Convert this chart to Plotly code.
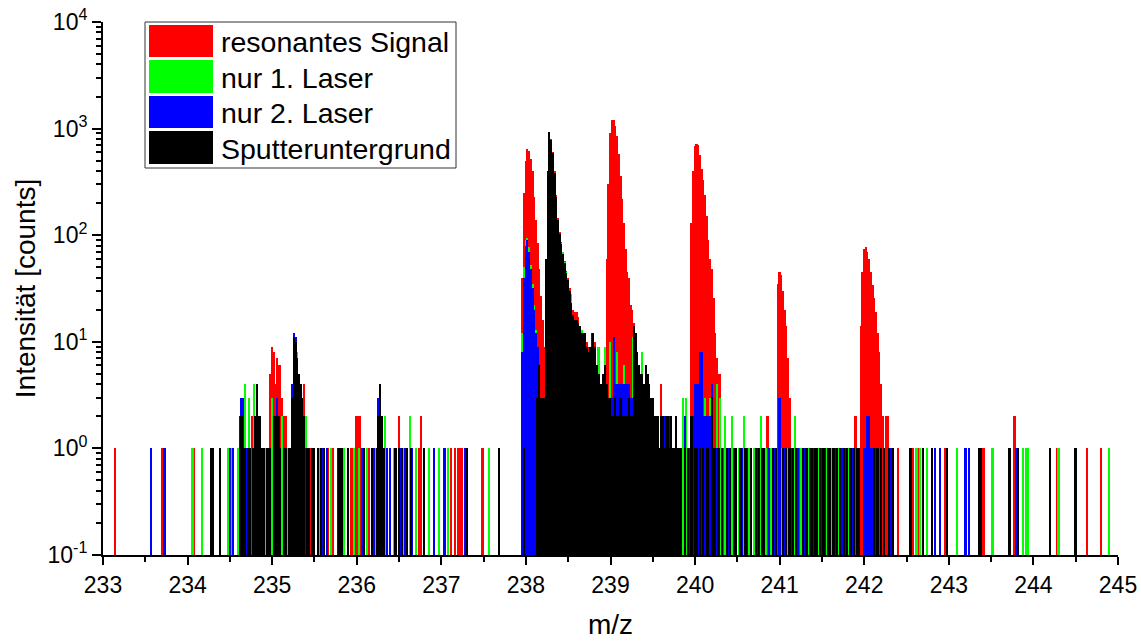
import plotly.graph_objects as go

BIN = 0.02

# ---------------- data: contiguous runs (start m/z, counts per 0.02 bin) ----------------
red_238 = [40, 250, 500, 640, 620, 520, 400, 230, 140, 85, 48, 27, 16, 9, 6]
red_238b = [380, 880, 800, 600, 400, 240, 145, 108, 86, 70,
            57, 46, 40, 32, 25, 20, 19, 19, 17, 14,
            13, 12, 12, 10, 9, 9, 10, 12, 10, 6,
            5, 4, 4, 5, 6]
red_239 = [60, 300, 900, 1200, 1200, 1050, 850, 580, 360, 220, 130, 75, 45, 40, 22, 20, 15, 11, 5]
red_240 = [130, 400, 680, 720, 700, 560, 420, 330, 240, 150, 90, 60, 48, 26, 12, 7, 5, 5]
red_241 = [35, 45, 42, 30, 20, 14, 7, 3]
red_242 = [14, 45, 75, 78, 70, 60, 45, 34, 26, 19, 12, 8, 4, 2]
red_235 = [5, 9, 8, 4, 7, 6, 6, 3, 2, 2]
red_runs = [(237.96, red_238), (238.26, red_238b), (238.96, red_239), (239.96, red_240),
            (240.98, red_241), (241.96, red_242), (234.98, red_235)]
red_sticks = [(233.14, 1), (233.70, 1), (234.08, 1), (234.76, 2), (234.90, 1), (235.26, 4), (235.30, 5),
              (235.38, 4), (235.46, 1), (235.59, 1), (235.66, 1), (235.72, 1), (235.94, 1), (236.00, 2),
              (236.02, 2), (236.04, 2), (236.06, 1), (236.15, 1), (236.50, 2), (236.60, 1), (236.74, 1),
              (236.76, 2), (237.12, 1), (237.16, 1), (237.20, 1), (237.22, 1), (237.25, 1), (237.49, 1),
              (239.34, 4), (239.42, 5), (239.50, 2), (239.60, 4), (240.34, 1), (240.40, 1), (240.86, 2),
              (241.24, 1), (241.70, 1), (241.90, 2), (242.26, 2), (242.28, 2), (242.40, 1), (242.58, 1),
              (242.64, 1), (242.96, 1), (243.40, 1), (243.42, 1), (243.78, 2), (244.28, 1), (244.64, 1),
              (244.80, 1)]

green_238 = [12, 50, 90, 95, 78, 52, 35, 22, 13, 8, 6]
green_238b = [55, 390, 900, 770, 585, 378, 228, 137, 103, 85,
              70, 56, 45, 38, 30, 28, 18, 16, 16, 15,
              14, 13, 12, 12, 9, 8, 9, 10, 12, 9,
              6, 5, 4, 4, 5, 9]
green_runs = [(237.96, green_238), (238.24, green_238b)]
green_sticks = [(234.06, 1), (234.17, 1), (234.48, 1), (234.53, 1), (234.60, 1), (234.68, 4), (234.73, 3),
                (234.79, 4), (234.86, 1), (234.92, 1), (235.00, 3), (235.12, 2), (235.18, 1), (235.22, 1),
                (235.28, 9), (235.30, 8), (235.32, 5), (235.34, 4), (235.36, 3), (235.40, 2),
                (235.44, 1), (235.50, 1), (235.56, 1), (235.70, 1), (235.85, 1), (235.97, 1), (236.03, 1),
                (236.12, 1), (236.22, 1), (236.28, 4), (236.34, 2), (236.44, 1), (236.56, 1), (236.63, 2),
                (236.70, 1), (236.86, 1), (236.98, 1), (237.08, 1), (237.57, 1), (238.86, 9), (239.00, 10),
                (239.08, 8), (239.16, 6), (239.27, 11), (239.38, 8), (239.46, 4), (239.86, 3), (239.90, 3),
                (240.12, 3), (240.18, 3), (240.26, 4), (240.30, 3), (240.36, 2), (240.44, 2), (240.52, 1),
                (240.58, 2), (240.64, 1), (240.70, 1), (240.78, 2), (240.84, 1), (240.90, 1), (241.02, 1),
                (241.10, 1), (241.18, 2), (241.26, 1), (241.34, 1), (241.46, 1), (241.56, 1), (241.62, 1),
                (241.70, 1), (241.82, 1), (242.00, 1), (242.08, 1), (242.62, 1), (242.66, 1), (242.74, 1),
                (242.84, 1), (243.10, 1), (243.52, 1), (243.88, 1), (243.92, 1), (243.94, 1), (244.30, 1),
                (244.90, 1)]

blue_238 = [8, 40, 80, 90, 70, 48, 32, 20, 12, 9]
blue_238b = [50, 380, 920, 770, 580, 375, 226, 136, 102, 82,
             66, 55, 44, 37, 29, 22, 17, 16, 15, 15,
             14, 12, 12, 12, 9, 8, 9, 12, 12, 9,
             6, 5, 4, 4, 5, 5]
blue_239 = [3, 11, 4, 4, 4, 4, 4, 4, 4, 4, 4, 3, 3]
blue_240 = [2, 4, 4, 4, 8, 8, 2, 2, 2, 2, 2, 4]
blue_runs = [(237.96, blue_238), (238.24, blue_238b), (239.02, blue_239), (239.98, blue_240)]
blue_sticks = [(233.57, 1), (233.73, 1), (234.50, 1), (234.54, 1), (234.62, 2), (234.64, 3), (234.66, 3),
               (234.70, 1), (234.84, 1), (234.96, 1), (235.06, 3), (235.16, 1), (235.24, 4), (235.26, 12),
               (235.28, 11), (235.30, 7), (235.32, 4), (235.34, 3), (235.36, 2), (235.40, 1), (235.48, 1),
               (235.60, 1), (235.65, 1), (235.78, 1), (236.07, 1), (236.20, 1), (236.26, 3), (236.36, 1),
               (236.40, 1), (236.52, 1), (236.58, 1), (236.66, 1), (236.92, 1), (237.04, 1), (237.28, 1),
               (239.30, 3), (239.40, 3), (239.44, 2), (239.56, 1), (239.62, 2), (239.64, 2), (239.66, 2),
               (239.70, 2), (239.72, 1), (239.76, 1), (239.80, 1), (239.84, 1), (239.88, 2), (239.94, 1),
               (240.26, 1), (240.32, 1), (240.40, 1), (240.46, 1), (240.56, 1), (240.62, 1), (240.74, 1),
               (240.88, 1), (240.94, 1), (241.00, 3), (241.06, 1), (241.14, 1), (241.22, 1), (241.30, 1),
               (241.36, 1), (241.40, 1), (241.50, 1), (241.54, 1), (241.66, 1), (241.74, 1), (241.78, 1),
               (241.86, 1), (242.00, 1), (242.02, 1), (242.04, 2), (242.06, 2), (242.08, 1), (242.10, 1),
               (242.14, 1), (242.32, 1), (242.84, 1), (242.90, 1), (243.20, 1), (243.24, 1), (243.80, 1)]

black_238 = [3, 6, 3, 3, 3, 60, 400, 930, 780, 590,
             380, 230, 138, 103, 83, 67, 54, 44, 38, 30,
             23, 18, 16, 16, 15, 14, 12, 12, 12, 9,
             8, 9, 9, 12, 9, 6, 5, 4, 4, 5, 6]
black_239 = [4, 3, 3, 2, 2, 3, 2, 2, 3, 2,
             2, 2, 2, 3, 2, 2, 14, 12, 8, 6,
             5, 5, 4, 6, 5, 4, 3, 3, 2, 2,
             2, 1, 2, 2, 1, 2, 2, 1, 2, 1, 1, 2, 1, 1]
black_235 = [1, 2, 1, 1, 0, 1, 1, 0, 1, 2,
             4, 2, 2, 1, 1, 0, 1, 1, 1, 0,
             2, 2, 2, 2, 1, 0, 1, 1, 0, 1,
             1, 3, 11, 10, 7, 5, 4, 3, 2, 0,
             1, 1, 0, 1, 1]
black_runs = [(238.14, black_238), (238.96, black_239), (234.62, black_235)]
black_sticks = [(234.28, 1), (234.30, 1), (234.39, 1), (235.54, 1), (235.58, 1), (235.62, 1), (235.80, 1),
                (235.83, 1), (235.90, 1), (236.09, 1), (236.18, 1), (236.24, 1), (236.26, 2), (236.28, 4),
                (236.30, 2), (236.32, 1), (236.46, 1), (236.50, 1), (236.54, 1), (236.60, 1), (236.64, 1),
                (236.80, 1), (237.31, 1), (237.68, 1), (237.98, 1),
                (239.84, 1), (239.88, 1), (239.92, 1), (239.96, 2), (240.00, 1), (240.02, 1), (240.06, 1),
                (240.10, 1), (240.14, 1), (240.16, 1), (240.20, 3), (240.22, 1), (240.24, 1), (240.28, 1),
                (240.32, 1), (240.38, 1), (240.42, 1), (240.48, 1), (240.54, 1), (240.60, 1), (240.66, 1),
                (240.72, 1), (240.76, 1), (240.80, 1), (240.82, 1), (240.92, 1), (240.96, 1), (241.04, 1),
                (241.08, 1), (241.12, 1), (241.16, 1), (241.20, 1), (241.28, 1), (241.32, 1), (241.38, 1),
                (241.42, 1), (241.44, 1), (241.48, 1), (241.52, 1), (241.58, 1), (241.60, 1), (241.64, 1),
                (241.68, 1), (241.72, 1), (241.76, 1), (241.80, 1), (241.84, 1), (241.88, 1), (241.92, 1),
                (241.94, 1), (242.12, 1), (242.16, 1), (242.20, 1), (242.24, 1), (242.30, 1), (242.34, 1),
                (242.55, 1), (242.70, 1), (242.80, 1), (242.98, 1), (243.36, 1), (243.38, 1), (243.72, 1),
                (243.82, 1), (244.20, 1), (244.50, 1)]

series_names = ["resonantes Signal", "nur 1. Laser", "nur 2. Laser", "Sputteruntergrund"]
series_colors = ["#FF0000", "#00FF00", "#0000FF", "#000000"]
series_runs = [red_runs, green_runs, blue_runs, black_runs]
series_sticks = [red_sticks, green_sticks, blue_sticks, black_sticks]

x_ticks = list(range(233, 246))
y_tick_vals = [0.1, 1, 10, 100, 1000, 10000]
y_tick_text = ["10<sup>-1</sup>", "10<sup>0</sup>", "10<sup>1</sup>", "10<sup>2</sup>",
               "10<sup>3</sup>", "10<sup>4</sup>"]


def expand(runs, sticks):
    xs, ys = [], []
    for start, counts in runs:
        for i, c in enumerate(counts):
            if c > 0:
                xs.append(round(start + i * BIN, 3))
                ys.append(c)
    for x, c in sticks:
        if c > 0:
            xs.append(x)
            ys.append(c)
    return xs, ys


fig = go.Figure()
for name, col, runs, sticks in zip(series_names, series_colors, series_runs, series_sticks):
    xs, ys = expand(runs, sticks)
    fig.add_trace(go.Bar(x=xs, y=ys, width=BIN, name=name, showlegend=False,
                         marker=dict(color=col, line=dict(width=0))))

# plot area in pixels
L, R, T, B = 103, 1118, 22, 555
W, H = 1141, 641


def px(xp):
    return (xp - L) / (R - L)


def py(yp):
    return (B - yp) / (B - T)


FONT = "Liberation Sans, Arial, sans-serif"

# manual legend
shapes = [dict(type="rect", xref="paper", yref="paper", x0=px(145), x1=px(456), y0=py(168), y1=py(22),
               line=dict(color="#333333", width=1), fillcolor="white", layer="above")]
annotations = []
sw_rows = [(25, 57), (60, 93), (96, 128), (131, 164)]
for (y0, y1), name, col in zip(sw_rows, series_names, series_colors):
    shapes.append(dict(type="rect", xref="paper", yref="paper", x0=px(149), x1=px(213),
                       y0=py(y1), y1=py(y0), line=dict(width=0), fillcolor=col, layer="above"))
    annotations.append(dict(xref="paper", yref="paper", x=px(219), y=py((y0 + y1) / 2 + 1), text=name,
                            showarrow=False, xanchor="left", yanchor="middle",
                            font=dict(family=FONT, size=28.5, color="black")))

fig.update_layout(
    width=W, height=H,
    margin=dict(l=L, r=W - R, t=T, b=H - B),
    paper_bgcolor="white", plot_bgcolor="white",
    barmode="overlay", bargap=0,
    font=dict(family=FONT, color="black"),
    shapes=shapes, annotations=annotations,
    xaxis=dict(range=[233, 245], tickvals=x_ticks, ticks="outside", ticklen=8, tickwidth=2,
               tickcolor="black", showline=True, linewidth=2, linecolor="black", showgrid=False,
               zeroline=False, tickfont=dict(size=23, family=FONT), automargin=False,
               minor=dict(dtick=0.5, ticks="outside", ticklen=5, tickwidth=2, tickcolor="black"),
               title=dict(text="m/z", font=dict(size=28, family=FONT), standoff=18)),
    yaxis=dict(type="log", range=[-1, 4], tickvals=y_tick_vals, ticktext=y_tick_text, ticks="outside",
               ticklen=9, tickwidth=2, tickcolor="black", showline=True, linewidth=2,
               linecolor="black", showgrid=False, zeroline=False, tickfont=dict(size=23, family=FONT),
               automargin=False,
               minor=dict(dtick="D1", ticks="outside", ticklen=5, tickwidth=1.5, tickcolor="black"),
               title=dict(text="Intensität [counts]", font=dict(size=28, family=FONT), standoff=4)),
)

fig.write_html("out.html")
